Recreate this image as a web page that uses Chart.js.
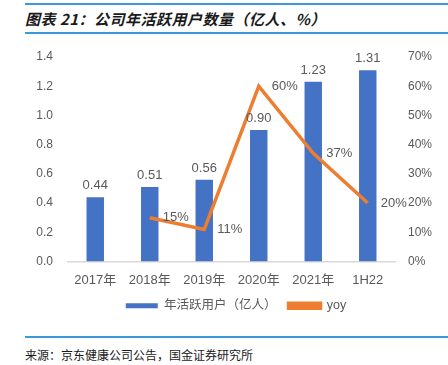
<!DOCTYPE html>
<html>
<head>
<meta charset="utf-8">
<script src="https://cdn.jsdelivr.net/npm/chart.js@4"></script>
<style>
  body { margin: 0; width: 448px; height: 365px; background: #fff; position: relative; overflow: hidden;
         font-family: "Liberation Sans", "Noto Sans CJK SC", sans-serif; }
  .rule { position: absolute; left: 25px; right: 0; height: 2px; background: #3a9ad9; }
  #title { position: absolute; left: 25px; top: 8px; font-size: 15px; font-weight: bold; font-style: italic;
           color: #1a1a1a; font-family: "Noto Sans CJK SC", sans-serif; letter-spacing: 0.5px; }
  #source { position: absolute; left: 25px; top: 346px; font-size: 12px; color: #1a1a1a;
            font-family: "Noto Sans CJK SC", sans-serif; }
  #wrap { position: absolute; left: 0; top: 0; width: 448px; height: 330px; }
</style>
</head>
<body>
<div class="rule" style="top:3px"></div>
<div id="title">图表 21：公司年活跃用户数量（亿人、%）</div>
<div class="rule" style="top:32px"></div>
<div id="wrap"><canvas id="chart"></canvas></div>
<div class="rule" style="top:336px"></div>
<div id="source">来源：京东健康公司公告，国金证券研究所</div>

<script>
// 数据
const categorias = ['2017年', '2018年', '2019年', '2020年', '2021年', '1H22'];
const usuarios = [0.44, 0.51, 0.56, 0.90, 1.23, 1.31];   // 年活跃用户（亿人）
const yoy = [null, 15, 11, 60, 37, 20];                   // %
const ticksIzq = [0, 0.2, 0.4, 0.6, 0.8, 1.0, 1.2, 1.4];
const ticksDer = [0, 10, 20, 30, 40, 50, 60, 70];

const fuente = '"Liberation Sans", "Noto Sans CJK SC", sans-serif';
const gris = '#595959';

// etiquetas de datos (no hay plugin datalabels)
const etiquetas = {
    id: 'etiquetas',
    afterDatasetsDraw(chart) {
        const ctx = chart.ctx;
        ctx.save();
        ctx.fillStyle = gris;
        ctx.font = '13px ' + fuente;
        chart.getDatasetMeta(0).data.forEach((bar, i) => {
            ctx.textAlign = 'center';
            ctx.textBaseline = 'bottom';
            ctx.fillText(usuarios[i].toFixed(2), bar.x, bar.y - 5);
        });
        chart.getDatasetMeta(1).data.forEach((pt, i) => {
            if (yoy[i] == null) return;
            ctx.textAlign = 'left';
            ctx.textBaseline = 'middle';
            ctx.fillText(yoy[i] + '%', pt.x + 13, pt.y);
        });
        ctx.restore();
    }
};

new Chart(document.getElementById('chart'), {
    data: {
        labels: categorias,
        datasets: [{
            type: 'bar',
            label: '年活跃用户（亿人）',
            data: usuarios,
            backgroundColor: '#4472C4',
            barPercentage: 0.8,
            categoryPercentage: 0.4,
            yAxisID: 'y',
            order: 1
        }, {
            type: 'line',
            label: 'yoy',
            data: yoy,
            borderColor: '#ED7D31',
            backgroundColor: '#ED7D31',
            borderWidth: 3.5,
            pointRadius: 0,
            tension: 0,
            yAxisID: 'y1',
            order: 0
        }]
    },
    options: {
        responsive: true,
        maintainAspectRatio: false,
        animation: false,
        layout: { padding: { top: 57, left: 24, right: 0, bottom: 8 } },
        plugins: {
            tooltip: { enabled: false },
            legend: {
                position: 'bottom',
                labels: {
                    sort: (a, b) => a.datasetIndex - b.datasetIndex,
                    boxWidth: 32,
                    boxHeight: 5,
                    padding: 12,
                    color: gris,
                    font: { size: 12.5, family: fuente }
                }
            }
        },
        scales: {
            x: {
                grid: { display: false },
                border: { color: '#d9d9d9', width: 1.5 },
                ticks: { color: gris, padding: 3, font: { size: 13, family: fuente } },
                afterFit: s => { s.height = 26; }
            },
            y: {
                position: 'left',
                min: 0, max: 1.4,
                grid: { display: false, drawTicks: false },
                border: { display: false },
                afterBuildTicks: s => { s.ticks = ticksIzq.map(v => ({ value: v })); },
                ticks: { color: gris, padding: 15, font: { size: 12, family: fuente },
                         callback: v => v.toFixed(1) },
                afterFit: s => { s.width = 44; }
            },
            y1: {
                position: 'right',
                min: 0, max: 70,
                grid: { display: false, drawTicks: false },
                border: { display: false },
                afterBuildTicks: s => { s.ticks = ticksDer.map(v => ({ value: v })); },
                ticks: { color: gris, padding: 13, font: { size: 12, family: fuente },
                         callback: v => v + '%' },
                afterFit: s => { s.width = 53; }
            }
        }
    },
    plugins: [etiquetas]
});
</script>
</body>
</html>
